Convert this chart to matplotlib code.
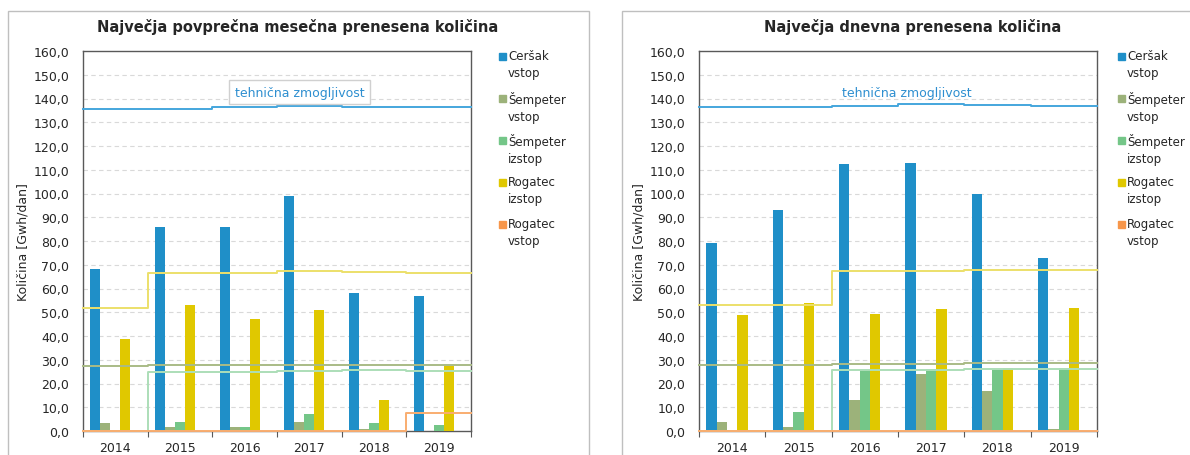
import matplotlib
matplotlib.use('Agg')
import matplotlib.pyplot as plt
from matplotlib.patches import Rectangle
import numpy as np

plt.rcParams['font.family'] = 'DejaVu Sans'

years = ['2014', '2015', '2016', '2017', '2018', '2019']
series = ['Ceršak\nvstop', 'Šempeter\nvstop', 'Šempeter\nizstop', 'Rogatec\nizstop', 'Rogatec\nvstop']

# najvecja povprecna mesecna prenesena kolicina
m_cersak = [68.3, 85.8, 86.0, 98.8, 58.2, 56.9]
m_semp_v = [3.2, 1.6, 1.7, 3.6, 0.7, 0.0]
m_semp_i = [0.0, 3.7, 1.6, 7.0, 3.3, 2.5]
m_rog_i = [38.7, 53.0, 47.1, 51.0, 13.0, 27.2]
m_rog_v = [0.0, 0.0, 0.0, 0.0, 0.0, 0.0]
# tehnicna zmogljivost (mesecno)
mc_cersak = [135.5, 135.5, 136.3, 137.0, 136.6, 136.3]
mc_semp_v = [27.3, 27.6, 27.6, 27.8, 28.0, 27.6]
mc_semp_i = [0.0, 25.0, 25.0, 25.3, 25.5, 25.1]
mc_rog_i = [52.0, 66.5, 66.7, 67.2, 66.9, 66.6]
mc_rog_v = [0.0, 0.0, 0.0, 0.0, 0.0, 7.5]

# najvecja dnevna prenesena kolicina
d_cersak = [79.2, 93.0, 112.3, 112.9, 100.0, 72.9]
d_semp_v = [3.7, 1.8, 13.2, 23.8, 17.0, 1.0]
d_semp_i = [0.0, 8.2, 25.7, 26.3, 25.8, 26.5]
d_rog_i = [48.8, 53.8, 49.3, 51.3, 26.7, 52.0]
d_rog_v = [0.0, 0.0, 0.0, 0.0, 0.0, 0.0]
# tehnicna zmogljivost (dnevno)
dc_cersak = [136.5, 136.5, 137.0, 137.8, 137.3, 137.0]
dc_semp_v = [27.8, 27.8, 28.1, 28.3, 28.6, 28.6]
dc_semp_i = [0.0, 0.0, 25.6, 25.8, 26.0, 26.0]
dc_rog_i = [53.0, 53.0, 67.2, 67.5, 67.9, 67.6]
dc_rog_v = [0.0, 0.0, 0.0, 0.0, 0.0, 0.0]

bar_colors = ['#1f8fc8', '#9cb27a', '#74c688', '#e0c800', '#f7964a']
line_colors = ['#44a6dd', '#a9bb86', '#acdeb8', '#ece06a', '#f9ad70']

W, H = 1190, 456
fig = plt.figure(figsize=(W / 100, H / 100), dpi=100)


def px(x, y):
    return x / W, 1 - y / H


def panel(rect, title, title_x, bars, caps, note_box, note_x, legend_x):
    ax = fig.add_axes(rect)
    x = np.arange(len(years))
    bw = 0.155
    for i, vals in enumerate(bars):
        ax.bar(x + (i - 2) * bw, vals, width=bw, color=bar_colors[i],
               edgecolor='none', zorder=3)
    edges = np.arange(len(years) + 1) - 0.5
    order = [1, 2, 3, 0, 4]
    for i in order:
        vals = caps[i]
        ax.step(edges, list(vals) + [vals[-1]], where='post',
                color=line_colors[i], lw=1.4, zorder=4, clip_on=False)
    ax.set_xlim(-0.5, 5.5)
    ax.set_ylim(0, 160)
    ax.set_yticks(np.arange(0, 161, 10))
    ax.set_yticklabels([('%.1f' % v).replace('.', ',') for v in np.arange(0, 161, 10)])
    ax.set_xticks(edges)
    ax.set_xticklabels([])
    ax.set_xticks(x, minor=True)
    ax.set_xticklabels(years, minor=True)
    ax.tick_params(axis='x', which='major', length=4, direction='out', color='#595959')
    ax.tick_params(axis='x', which='minor', length=0, pad=7, labelsize=9, labelcolor='#262626')
    ax.tick_params(axis='y', length=0, pad=10, labelsize=9, labelcolor='#262626')
    for g in np.arange(10, 160, 10):
        ax.axhline(g, color='#d9d9d9', lw=0.8, ls=(0, (4, 3)), zorder=1)
    for s in ax.spines.values():
        s.set_color('#595959')
        s.set_linewidth(1.0)
    ax.set_ylabel('Količina [Gwh/dan]', fontsize=9, color='#262626', labelpad=3)
    ax.text(note_x, 142.7, 'tehnična zmogljivost', ha='center', va='center',
            fontsize=9, color='#2e8fd0', zorder=6,
            bbox=dict(boxstyle='square,pad=0.45', fc='white', ec='#d0d0d0', lw=1.0) if note_box else None)

    tx, ty = px(title_x, 27)
    fig.text(tx, ty, title, ha='center', va='center', fontsize=10.5, fontweight='bold', color='#262626')

    ys = [57, 99, 141, 183, 225]
    for i, lab in enumerate(series):
        mx, my = px(legend_x, ys[i] + 4)
        fig.patches.append(Rectangle((mx, my), 7 / W, 7 / H, transform=fig.transFigure,
                                     color=bar_colors[i], figure=fig))
        lx, ly = px(legend_x + 9, ys[i] - 7)
        fig.text(lx, ly, lab, ha='left', va='top', fontsize=8.5, color='#262626',
                 linespacing=1.4)
    return ax


axl = panel([83 / W, 24 / H, 388 / W, 380 / H],
            'Največja povprečna mesečna prenesena količina', 298,
            [m_cersak, m_semp_v, m_semp_i, m_rog_i, m_rog_v],
            [mc_cersak, mc_semp_v, mc_semp_i, mc_rog_i, mc_rog_v],
            True, 2.85, 499)
axr = panel([699 / W, 24 / H, 398 / W, 380 / H],
            'Največja dnevna prenesena količina', 913,
            [d_cersak, d_semp_v, d_semp_i, d_rog_i, d_rog_v],
            [dc_cersak, dc_semp_v, dc_semp_i, dc_rog_i, dc_rog_v],
            False, 2.64, 1118)

# okvirja grafov
for x0, x1 in [(8, 589), (622, 1200)]:
    fx0, _ = px(x0, 0)
    fx1, _ = px(x1, 0)
    fig.patches.append(Rectangle((fx0, -0.05), fx1 - fx0, 1 - 12 / H + 0.05,
                                 transform=fig.transFigure, fill=False,
                                 ec='#bfbfbf', lw=1.0, figure=fig, zorder=0))

fig.savefig('out.png', dpi=100)
